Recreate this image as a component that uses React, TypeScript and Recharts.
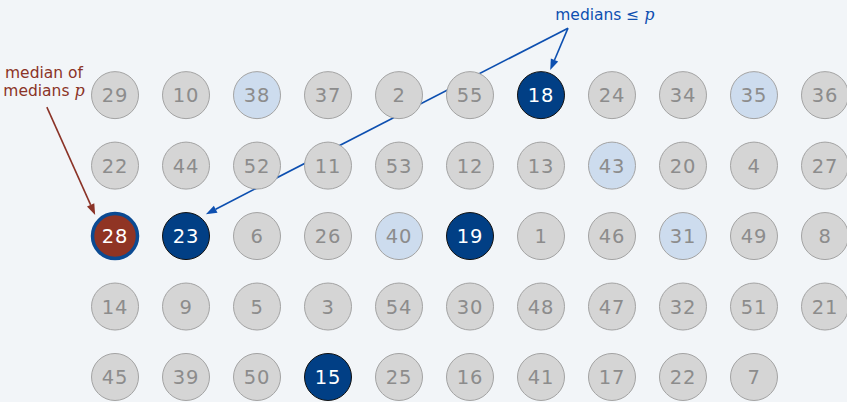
import React from 'react';
import { ScatterChart, Scatter, XAxis, YAxis, ReferenceLine, ReferenceDot } from 'recharts';

// grid of 5-element groups, one array per row (columns are the groups)
const row1 = [29, 10, 38, 37, 2, 55, 18, 24, 34, 35, 36];
const row2 = [22, 44, 52, 11, 53, 12, 13, 43, 20, 4, 27];
const row3 = [28, 23, 6, 26, 40, 19, 1, 46, 31, 49, 8];
const row4 = [14, 9, 5, 3, 54, 30, 48, 47, 32, 51, 21];
const row5 = [45, 39, 50, 15, 25, 16, 41, 17, 22, 7];
const rows = [row1, row2, row3, row4, row5];

const pivot = 28;
const mediansBelow = [18, 23, 19, 15];
const lightValues = [38, 35, 43, 40, 31];

const points = rows.flatMap((row, r) =>
  row.map((v, c) => ({ col: c + 1, row: r + 1, value: v }))
);

const BG = '#f2f5f8';
const BLUE = '#0d4fb0';
const RED = '#8b3327';

const Node = (props: any) => {
  const { cx, cy, payload } = props;
  const v = payload.value;
  let fill = '#d5d5d5';
  let stroke = '#a3a3a3';
  let sw = 1;
  let color = '#8c8c8c';
  if (v === pivot) {
    fill = '#903424';
    stroke = '#0b4a92';
    sw = 3.5;
    color = '#fff';
  } else if (mediansBelow.includes(v)) {
    fill = '#013f85';
    stroke = '#111';
    color = '#fff';
  } else if (lightValues.includes(v)) {
    fill = '#cddcee';
  }
  return (
    <g>
      <circle cx={cx} cy={cy} r={v === pivot ? 22.5 : 23.5} fill={fill} stroke={stroke} strokeWidth={sw} />
      <text
        x={cx}
        y={cy + 7}
        textAnchor="middle"
        fill={color}
        fontSize={19.5}
        letterSpacing={0.8}
        fontFamily="DejaVu Sans, sans-serif"
      >
        {v}
      </text>
    </g>
  );
};

const arrow = (color: string) => (props: any) => {
  const { x1, y1, x2, y2 } = props;
  const a = Math.atan2(y2 - y1, x2 - x1);
  const len = 11;
  const w = 4;
  const bx = x2 - len * Math.cos(a);
  const by = y2 - len * Math.sin(a);
  const px = -Math.sin(a) * w;
  const py = Math.cos(a) * w;
  return (
    <g>
      <line x1={x1} y1={y1} x2={bx} y2={by} stroke={color} strokeWidth={1.6} />
      <polygon points={`${x2},${y2} ${bx + px},${by + py} ${bx - px},${by - py}`} fill={color} />
    </g>
  );
};

const App = () => (
  <div style={{ position: 'fixed', left: 0, top: 0, width: 847, height: 402, background: BG }}>
    <ScatterChart width={847} height={402} margin={{ top: 0, right: 0, bottom: 0, left: 0 }}>
      <XAxis type="number" dataKey="col" domain={[-0.62, 11.31]} hide allowDataOverflow />
      <YAxis type="number" dataKey="row" domain={[-0.35, 5.355]} reversed hide allowDataOverflow />
      <Scatter data={points} shape={(p: any) => <Node {...p} />} isAnimationActive={false} />
      <ReferenceLine
        segment={[{ x: 0.04, y: 1.17 }, { x: 0.72, y: 2.7 }]}
        shape={arrow(RED)}
        ifOverflow="visible"
      />
      <ReferenceLine
        segment={[{ x: 7.38, y: 0.05 }, { x: 7.13, y: 0.645 }]}
        shape={arrow(BLUE)}
        ifOverflow="visible"
      />
      <ReferenceLine
        segment={[{ x: 7.38, y: 0.05 }, { x: 2.28, y: 2.69 }]}
        shape={arrow(BLUE)}
        ifOverflow="visible"
      />
      <ReferenceDot
        x={7.9}
        y={-0.065}
        ifOverflow="visible"
        shape={(p: any) => (
          <text x={p.cx} y={p.cy} textAnchor="middle" fill={BLUE} fontSize={15.5} fontFamily="DejaVu Sans, sans-serif">
            medians ≤{' '}
            <tspan fontFamily="DejaVu Serif, serif" fontStyle="italic" fontSize={16}>p</tspan>
          </text>
        )}
      />
      <ReferenceDot
        x={0}
        y={0.887}
        ifOverflow="visible"
        shape={(p: any) => (
          <text textAnchor="middle" fill={RED} fontSize={15.5} fontFamily="DejaVu Sans, sans-serif">
            <tspan x={p.cx} y={p.cy - 9}>median of</tspan>
            <tspan x={p.cx} y={p.cy + 9}>
              medians <tspan fontFamily="DejaVu Serif, serif" fontStyle="italic" fontSize={16}>p</tspan>
            </tspan>
          </text>
        )}
      />
    </ScatterChart>
  </div>
);

export default App;
